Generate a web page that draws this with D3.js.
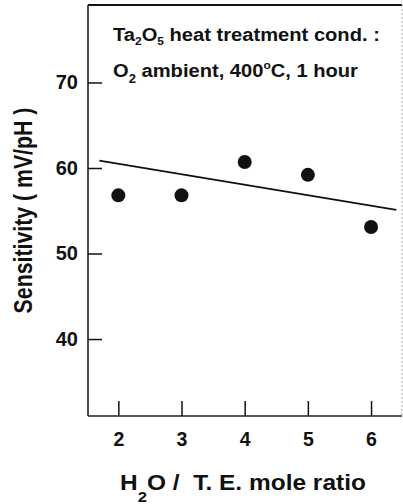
<!DOCTYPE html>
<html><head><meta charset="utf-8">
<script src="https://cdn.jsdelivr.net/npm/d3@7/dist/d3.min.js"></script>
<style>body{margin:0;background:#fff}svg{display:block}text{font-family:"Liberation Sans",Arial,sans-serif;font-weight:bold;fill:#111}</style>
</head><body><svg id="c" width="403" height="504"></svg>
<script>
const ratios = [2, 3, 4, 5, 6];
const sensitivity = [56.8, 56.8, 60.7, 59.2, 53.1];
const fitX = [1.7, 6.4];
const fitY = [60.85, 55.1];
const xTicks = [2, 3, 4, 5, 6];
const yTicks = [40, 50, 60, 70];

const svg = d3.select("#c");
const L = 88, R = 402, T = 5, B = 416;
const x = d3.scaleLinear().domain([1.52, 6.49]).range([L, R]);
const y = d3.scaleLinear().domain([31, 79.06]).range([B, T]);

// stretch a horizontal text horizontally to a target width (keeps left edge)
function fitWidth(sel, w) {
  const bb = sel.node().getBBox();
  const k = w / bb.width;
  const x0 = bb.x;
  sel.attr("transform", `translate(${x0},0) scale(${k},1) translate(${-x0},0)`);
}

// frame
svg.append("line").attr("x1", L).attr("x2", L).attr("y1", T).attr("y2", B).attr("stroke", "#111").attr("stroke-width", 1.5);
svg.append("line").attr("x1", L).attr("x2", R).attr("y1", T).attr("y2", T).attr("stroke", "#111").attr("stroke-width", 2);
svg.append("line").attr("x1", L).attr("x2", R).attr("y1", B).attr("y2", B).attr("stroke", "#222").attr("stroke-width", 1.5);
svg.append("line").attr("x1", R).attr("x2", R).attr("y1", T).attr("y2", B).attr("stroke", "#aaa").attr("stroke-width", 1).attr("stroke-dasharray", "2,2");

// axes
const yAxis = d3.axisLeft(y).tickValues(yTicks).tickSize(-14).tickPadding(10).tickFormat(d3.format("d"));
const gy = svg.append("g").attr("transform", `translate(${L},0)`).call(yAxis);
gy.select(".domain").remove();
gy.selectAll(".tick line").attr("stroke", "#111").attr("stroke-width", 1.5);
gy.selectAll(".tick text").style("font-size", "20px").attr("fill", "#111");

const xAxis = d3.axisBottom(x).tickValues(xTicks).tickSize(-15).tickPadding(16).tickFormat(d3.format("d"));
const gx = svg.append("g").attr("transform", `translate(0,${B})`).call(xAxis);
gx.select(".domain").remove();
gx.selectAll(".tick line").attr("stroke", "#111").attr("stroke-width", 1.5);
gx.selectAll(".tick text").style("font-size", "19.5px").attr("fill", "#111");

// fit line
svg.append("path").datum(fitX.map((v, i) => [v, fitY[i]]))
  .attr("d", d3.line().x(d => x(d[0])).y(d => y(d[1])))
  .attr("fill", "none").attr("stroke", "#111").attr("stroke-width", 1.8);

// points
svg.selectAll("circle.pt").data(ratios).join("circle").attr("class", "pt")
  .attr("cx", d => x(d)).attr("cy", (d, i) => y(sensitivity[i])).attr("r", 7).attr("fill", "#111");

// annotation
const t1 = svg.append("text").attr("x", 113).attr("y", 41).style("font-size", "18.5px");
t1.append("tspan").text("Ta");
t1.append("tspan").attr("dy", 4).style("font-size", "11px").text("2");
t1.append("tspan").attr("dy", -4).text("O");
t1.append("tspan").attr("dy", 4).style("font-size", "11px").text("5");
t1.append("tspan").attr("dy", -4).text(" heat treatment cond. :");
fitWidth(t1, 267);

const t2 = svg.append("text").attr("x", 113).attr("y", 77).style("font-size", "18.5px");
t2.append("tspan").text("O");
t2.append("tspan").attr("dy", 6).style("font-size", "12px").text("2");
t2.append("tspan").attr("dy", -6).text(" ambient, 400");
t2.append("tspan").attr("dy", -8).style("font-size", "11px").text("o");
t2.append("tspan").attr("dy", 8).text("C, 1 hour");
fitWidth(t2, 245);

// axis titles
svg.append("text").attr("transform", "translate(32,210.5) rotate(-90) scale(1,1.25)").attr("text-anchor", "middle")
  .style("font-size", "21.3px").text("Sensitivity ( mV/pH )");

const xt = svg.append("text").attr("x", 120).attr("y", 490).style("font-size", "22px");
xt.append("tspan").text("H");
xt.append("tspan").attr("dy", 12).style("font-size", "15px").text("2");
xt.append("tspan").attr("dy", -12).text("O /\u00a0 T. E. mole ratio");
fitWidth(xt, 246);
</script></body></html>
